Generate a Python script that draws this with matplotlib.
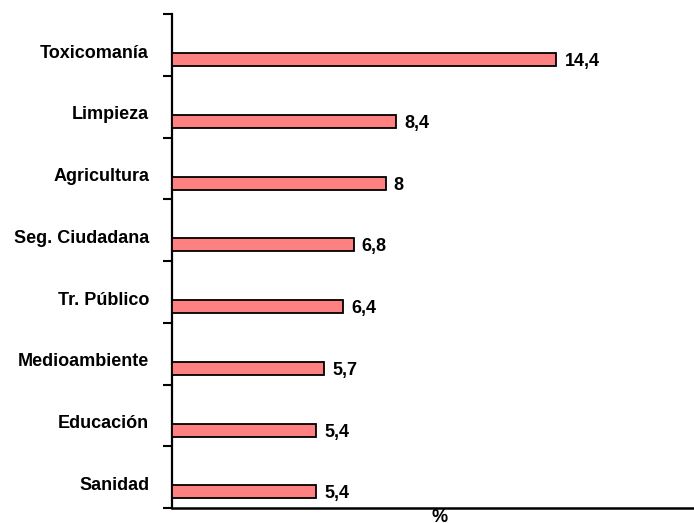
import matplotlib
matplotlib.use("Agg")
import matplotlib.pyplot as plt
from matplotlib.ticker import FixedLocator, NullFormatter

categories = ["Toxicomanía", "Limpieza", "Agricultura", "Seg. Ciudadana",
              "Tr. Público", "Medioambiente", "Educación", "Sanidad"]
values = [14.4, 8.4, 8.0, 6.8, 6.4, 5.7, 5.4, 5.4]
value_labels = ["14,4", "8,4", "8", "6,8", "6,4", "5,7", "5,4", "5,4"]

plt.rcParams['font.family'] = ['Liberation Sans', 'DejaVu Sans']

W, H = 694, 523
fig = plt.figure(figsize=(W / 100, H / 100), dpi=100)
ax = fig.add_axes([172 / W, 15 / H, 534 / W, 494 / H])

n = len(categories)
pos = list(range(n))
bar_off = 0.24
lab_off = 0.10
fs = 13

ax.barh([p + bar_off for p in pos], values, height=0.21, color="#FF8080",
        edgecolor="black", linewidth=1.3, zorder=3)

for p, v, t in zip(pos, values, value_labels):
    ax.text(v + 0.3, p + bar_off, t, ha="left", va="center_baseline",
            fontsize=fs, fontweight="bold", color="black")

ax.set_xlim(0, 20)
ax.set_ylim(n - 0.5, -0.5)

ax.yaxis.set_major_locator(FixedLocator([p + lab_off for p in pos]))
ax.set_yticklabels(categories, fontsize=fs, fontweight="bold")
ax.tick_params(axis="y", which="major", length=0, pad=16.5)
ax.yaxis.set_minor_locator(FixedLocator([p - 0.5 for p in range(n + 1)]))
ax.yaxis.set_minor_formatter(NullFormatter())
ax.tick_params(axis="y", which="minor", length=6.5, width=1.5, direction="out")

ax.set_xticks([])
for s in ["top", "right"]:
    ax.spines[s].set_visible(False)
ax.spines["left"].set_linewidth(1.6)
ax.spines["bottom"].set_linewidth(1.8)

fig.text(440 / W, 1 - 509 / H, "%", ha="center", va="top",
         fontsize=fs, fontweight="bold")

fig.savefig("out.png", dpi=100)
